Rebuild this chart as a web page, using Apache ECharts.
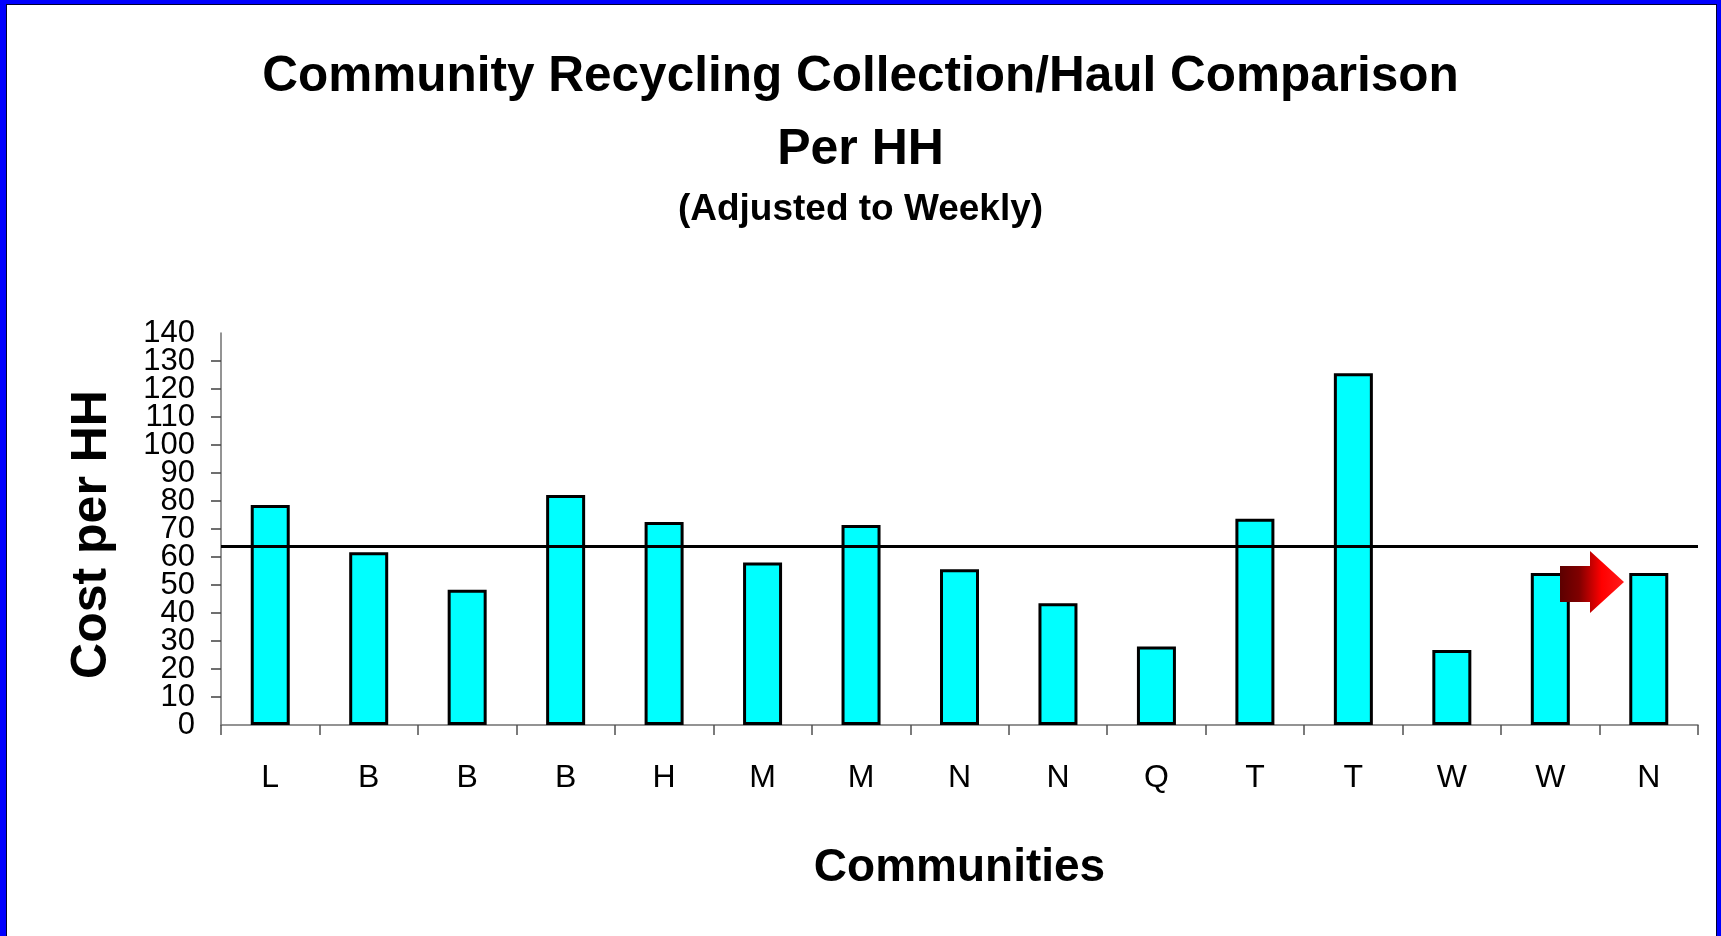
<!DOCTYPE html>
<html>
<head>
<meta charset="utf-8">
<script src="https://cdn.jsdelivr.net/npm/echarts@6/dist/echarts.min.js"></script>
<style>
  html, body { margin: 0; padding: 0; background: #fff; overflow: hidden; }
  #main { position: absolute; left: 0; top: 0; width: 1721px; height: 936px; }
  .frame {
    position: absolute; left: 0; top: 0; width: 1721px; height: 980px;
    box-sizing: border-box; pointer-events: none;
    border-style: solid; border-color: #0000ff; border-width: 4px 4px 0 6px;
  }
  .frame::after {
    content: ""; position: absolute; left: 0; top: 0; right: 0; bottom: 0;
    border: 1px solid #000033; border-bottom: none;
  }
</style>
</head>
<body>
<div id="main"></div>
<div class="frame"></div>
<script>
// data
var communities = ["L", "B", "B", "B", "H", "M", "M", "N", "N", "Q", "T", "T", "W", "W", "N"];
var costPerHH = [78.6, 61.7, 48.3, 82.1, 72.5, 58.0, 71.4, 55.6, 43.5, 28.0, 73.7, 125.6, 26.8, 54.3, 54.3];
var avgLine = 63.7;
var yMin = 0, yMax = 140, yStep = 10;
var titleLines = ["Community Recycling Collection/Haul Comparison", "Per HH", "(Adjusted to Weekly)"];

var font = "'Liberation Sans', Arial, sans-serif";
var myChart = echarts.init(document.getElementById("main"));

var labelStyle = { margin: 26, fontFamily: font, fontSize: 31, color: "#000", hideOverlap: false };

var option = {
  backgroundColor: "#FFFFFF",
  animation: false,
  title: [
    {
      text: titleLines[0],
      left: "center",
      top: 47,
      textStyle: { fontFamily: font, fontSize: 49.5, fontWeight: "bold", color: "#000" }
    },
    {
      text: titleLines[1],
      left: "center",
      top: 120,
      textStyle: { fontFamily: font, fontSize: 50, fontWeight: "bold", color: "#000" }
    },
    {
      text: titleLines[2],
      left: "center",
      top: 186,
      textStyle: { fontFamily: font, fontSize: 37, fontWeight: "bold", color: "#000" }
    }
  ],
  grid: { left: 221, right: 23, top: 333, bottom: 211, containLabel: false },
  xAxis: {
    type: "category",
    data: communities,
    name: "Communities",
    nameLocation: "middle",
    nameGap: 120,
    nameTextStyle: { fontFamily: font, fontSize: 46, fontWeight: "bold", color: "#000" },
    axisLine: { lineStyle: { color: "#707070", width: 1.5 } },
    axisTick: { show: true, length: 10, inside: false, alignWithLabel: false, lineStyle: { color: "#505050", width: 1.5 } },
    axisLabel: { margin: 37, fontFamily: font, fontSize: 32, color: "#000" },
    splitLine: { show: false }
  },
  yAxis: [
    {
      type: "value",
      min: yMin,
      max: yMax,
      interval: yStep,
      name: "Cost per HH",
      nameLocation: "middle",
      nameGap: 104,
      nameRotate: 90,
      nameTextStyle: { fontFamily: font, fontSize: 50, fontWeight: "bold", color: "#000", padding: [0, 11, 0, 0] },
      axisLine: { show: true, lineStyle: { color: "#707070", width: 1.5 } },
      axisTick: { show: true, length: 10, lineStyle: { color: "#404040", width: 1.5 } },
      // end labels come from the second axis so the crowded inner ones are not dropped
      axisLabel: Object.assign({ showMinLabel: false, showMaxLabel: false }, labelStyle),
      splitLine: { show: false }
    },
    {
      type: "value",
      position: "left",
      min: yMin,
      max: yMax,
      interval: yMax - yMin,
      axisLine: { show: false },
      axisTick: { show: false },
      axisLabel: Object.assign({ showMinLabel: true, showMaxLabel: true }, labelStyle),
      splitLine: { show: false }
    }
  ],
  series: [
    {
      type: "bar",
      data: costPerHH,
      barWidth: 39,
      itemStyle: { color: "#00FFFF", borderColor: "#000000", borderWidth: 3 },
      markLine: {
        silent: true,
        symbol: ["none", "none"],
        label: { show: false },
        lineStyle: { color: "#000", width: 3, type: "solid" },
        data: [{ yAxis: avgLine }]
      }
    }
  ],
  graphic: [
    {
      type: "polygon",
      z: 100,
      shape: {
        points: [[1560, 566], [1590, 566], [1590, 551], [1624, 582], [1590, 613], [1590, 602], [1560, 602]]
      },
      style: {
        fill: new echarts.graphic.LinearGradient(0, 0, 1, 0, [
          { offset: 0, color: "#5c0000" },
          { offset: 0.3, color: "#800000" },
          { offset: 0.5, color: "#c80000" },
          { offset: 0.65, color: "#ff0000" },
          { offset: 1, color: "#ff1a1a" }
        ])
      }
    }
  ]
};
myChart.setOption(option);
</script>
</body>
</html>
